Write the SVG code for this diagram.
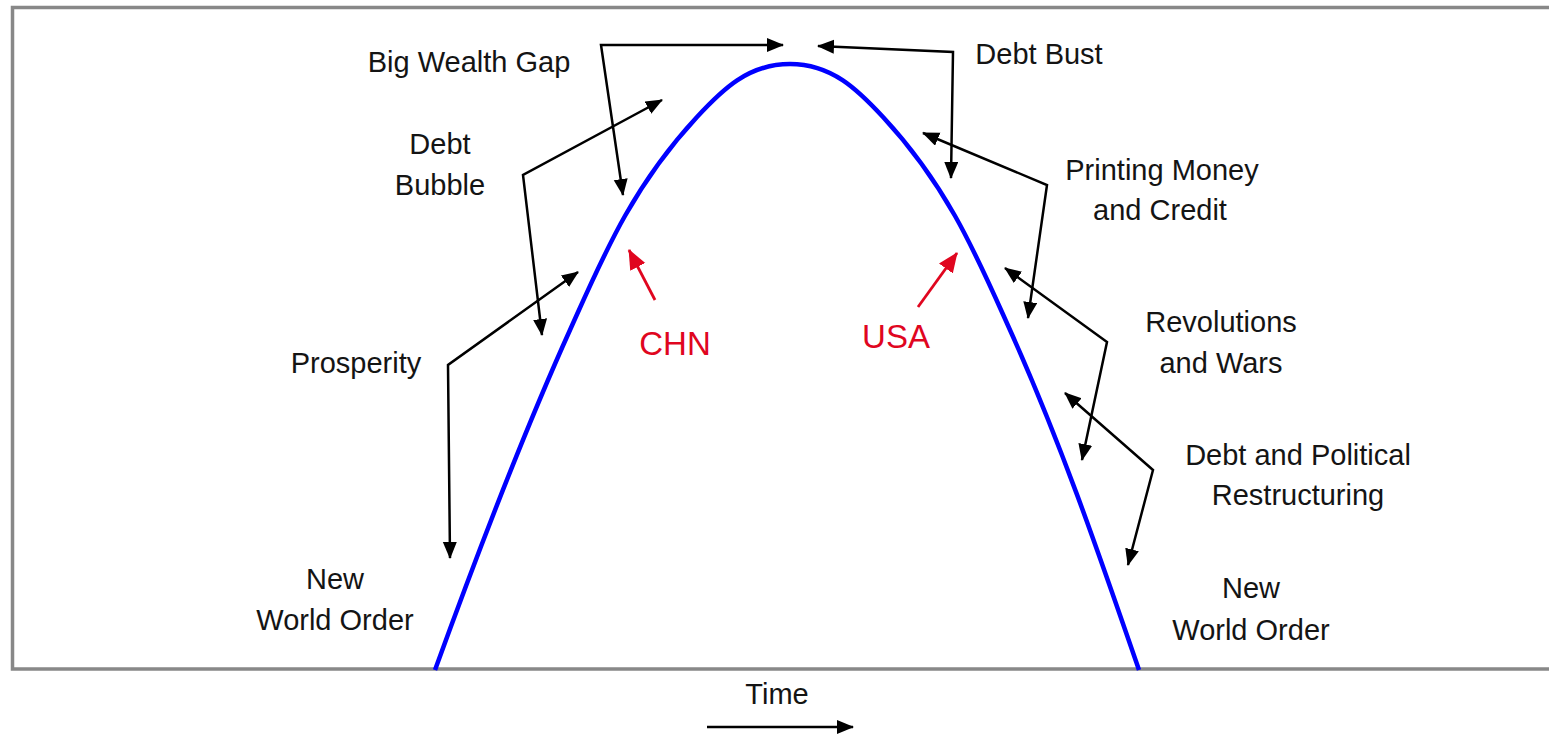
<svg xmlns="http://www.w3.org/2000/svg" width="1549" height="736" viewBox="0 0 1549 736">
<style>
.lbl{font-family:"Liberation Sans",Arial,sans-serif;font-size:29px;fill:#141414;text-anchor:middle}
.red{font-family:"Liberation Sans",Arial,sans-serif;font-size:33px;fill:#e0061f;text-anchor:middle}
.conn{fill:none;stroke:#000;stroke-width:2.5;stroke-linejoin:miter}
.rconn{fill:none;stroke:#e0061f;stroke-width:2.8}
</style>
<defs>
<marker id="ah" markerUnits="userSpaceOnUse" markerWidth="18" markerHeight="16" refX="16" refY="7" orient="auto-start-reverse">
<path d="M0,0 L17,7 L0,14 z" fill="#000"/>
</marker>
<marker id="rah" markerUnits="userSpaceOnUse" markerWidth="22" markerHeight="18" refX="19" refY="8.5" orient="auto">
<path d="M0,0 L20,8.5 L0,17 z" fill="#e0061f"/>
</marker>
</defs>
<rect width="1549" height="736" fill="#fff"/>
<path d="M1549,7.5 H12.5 V669 H1549" fill="none" stroke="#888" stroke-width="3.5"/>

<g id="curve">
<path d="M435,670 C476,557 519,443 570,330 C602,259 631,188 697,117 C722,90 748,64 790,64 C832,64 858,90 883,117 C949,188 978,259 1010,330 C1061,443 1100,557 1139,670" fill="none" stroke="#0000ff" stroke-width="4.5" stroke-linejoin="round"/>
</g>

<g id="connectors">
<path class="conn" d="M783,45 H601 L623,195" marker-end="url(#ah)" marker-start="url(#ah)"/>
<path class="conn" d="M818,46 L953,52 L951,178" marker-end="url(#ah)" marker-start="url(#ah)"/>
<path class="conn" d="M662,100 L523,175 L542,335" marker-end="url(#ah)" marker-start="url(#ah)"/>
<path class="conn" d="M578,272 L448,365 L450,558" marker-end="url(#ah)" marker-start="url(#ah)"/>
<path class="conn" d="M923,133 L1047,185 L1028,318" marker-end="url(#ah)" marker-start="url(#ah)"/>
<path class="conn" d="M1005,268 L1107,342 L1082,460" marker-end="url(#ah)" marker-start="url(#ah)"/>
<path class="conn" d="M1065,393 L1153,470 L1128,565" marker-end="url(#ah)" marker-start="url(#ah)"/>
<path class="rconn" d="M655,300 L629,250" marker-end="url(#rah)"/>
<path class="rconn" d="M918,307 L957,253" marker-end="url(#rah)"/>
<path class="conn" d="M707,727 H853" marker-end="url(#ah)"/>
</g>

<g id="big-wealth-gap"><text class="lbl" x="469" y="72">Big Wealth Gap</text></g>
<g id="debt-bubble"><text class="lbl" x="440" y="154">Debt</text><text class="lbl" x="440" y="195">Bubble</text></g>
<g id="prosperity"><text class="lbl" x="356" y="373">Prosperity</text></g>
<g id="new-world-order-left"><text class="lbl" x="335" y="589">New</text><text class="lbl" x="335" y="630">World Order</text></g>
<g id="debt-bust"><text class="lbl" x="1039" y="64">Debt Bust</text></g>
<g id="printing-money"><text class="lbl" x="1162" y="180">Printing Money</text><text class="lbl" x="1160" y="220">and Credit</text></g>
<g id="revolutions"><text class="lbl" x="1221" y="332">Revolutions</text><text class="lbl" x="1221" y="373">and Wars</text></g>
<g id="debt-political"><text class="lbl" x="1298" y="465">Debt and Political</text><text class="lbl" x="1298" y="505">Restructuring</text></g>
<g id="new-world-order-right"><text class="lbl" x="1251" y="598">New</text><text class="lbl" x="1251" y="640">World Order</text></g>
<g id="chn"><text class="red" x="675" y="355">CHN</text></g>
<g id="usa"><text class="red" x="896" y="348">USA</text></g>
<g id="time"><text class="lbl" x="777" y="704">Time</text></g>
</svg>
